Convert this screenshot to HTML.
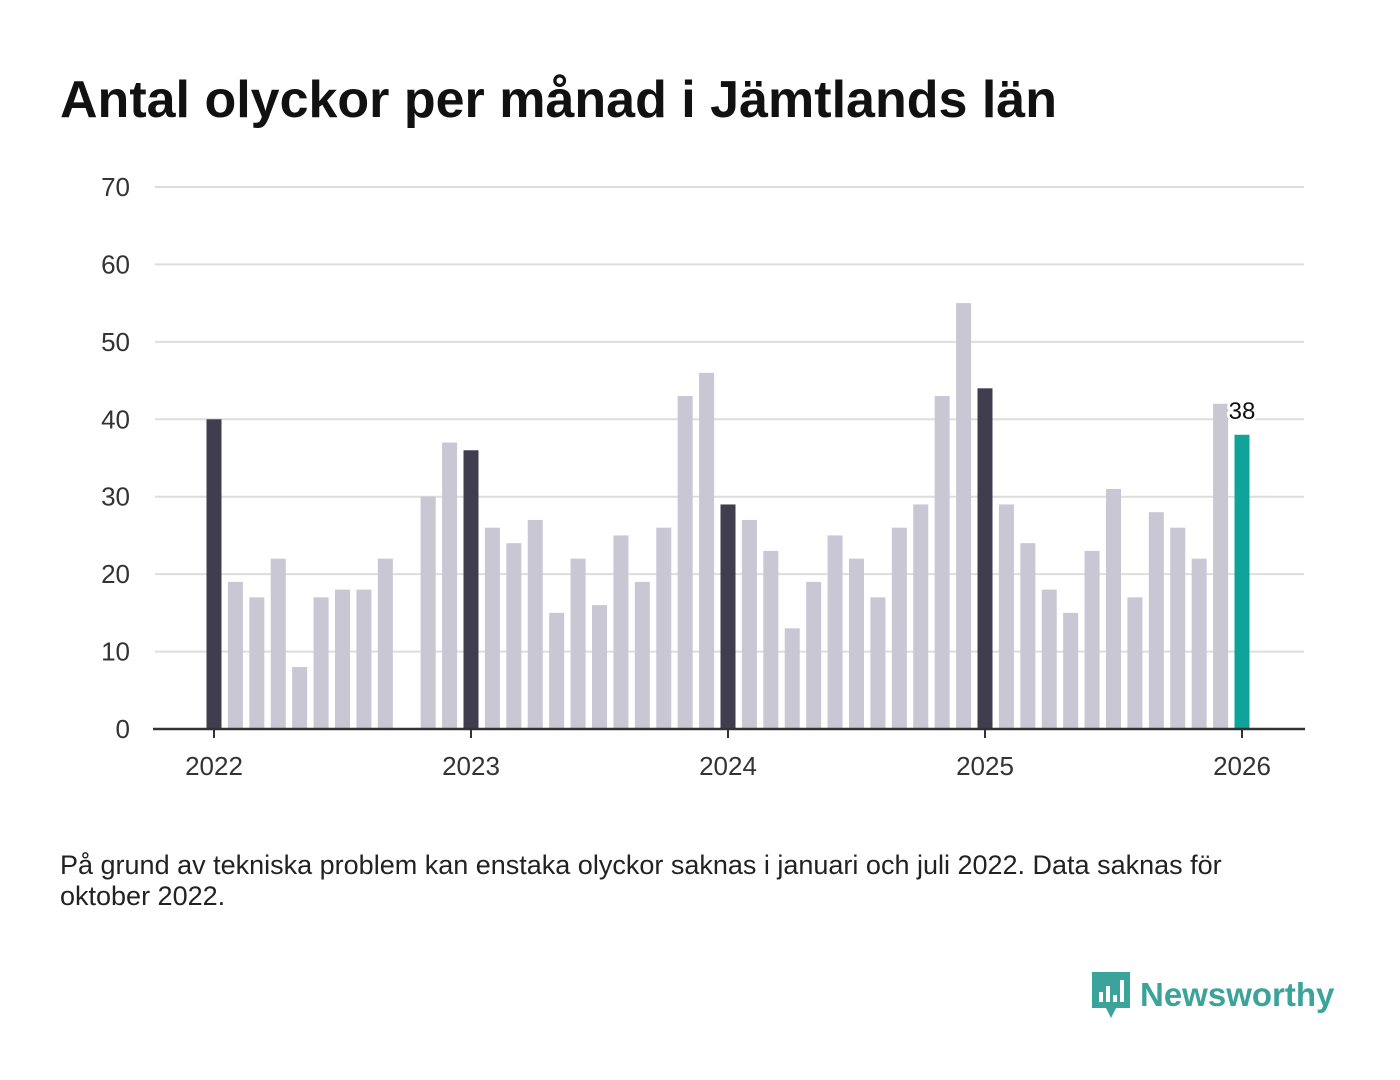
<!DOCTYPE html>
<html><head><meta charset="utf-8">
<style>
body{margin:0;background:#fff;width:1400px;height:1080px;overflow:hidden;font-family:"Liberation Sans","DejaVu Sans",sans-serif;}
#title{position:absolute;left:60px;top:70px;font-size:52px;font-weight:bold;color:#111;margin:0;}
#note{position:absolute;left:60px;top:850px;width:1300px;font-size:27px;line-height:31px;color:#222;}
#logo{position:absolute;left:1090px;top:970px;display:flex;align-items:center;}
#logo span{font-size:33px;font-weight:bold;color:#3aa39a;margin-left:8px;}
</style></head><body>
<h1 id="title">Antal olyckor per månad i Jämtlands län</h1>
<svg id="chart" width="1400" height="1080" style="position:absolute;left:0;top:0"></svg>
<div id="note">På grund av tekniska problem kan enstaka olyckor saknas i januari och juli 2022. Data saknas för<br>oktober 2022.</div>
<div id="logo">
<svg width="42" height="50" viewBox="0 0 42 50"><path d="M2 2h38v36H26l-5 10-5-10H2z" fill="#3aa39a"/><rect x="9" y="22" width="4" height="10" fill="#fff"/><rect x="16" y="16" width="4" height="16" fill="#fff"/><rect x="23" y="25" width="4" height="7" fill="#fff"/><rect x="30" y="10" width="4" height="22" fill="#fff"/></svg>
<span>Newsworthy</span></div>
<script>
const values=[40,19,17,22,8,17,18,18,22,null,30,37,
36,26,24,27,15,22,16,25,19,26,43,46,
29,27,23,13,19,25,22,17,26,29,43,55,
44,29,24,18,15,23,31,17,28,26,22,42,
38];
const yTicks=[0,10,20,30,40,50,60,70];
const xYears=[2022,2023,2024,2025,2026];
const ns="http://www.w3.org/2000/svg";
const svg=document.getElementById('chart');
const x0=214,monthW=257/12,y0=729,yScale=(729-187)/70;
const xs=i=>x0+i*monthW, ys=v=>y0-v*yScale;
function mk(t,a){const e=document.createElementNS(ns,t);for(const k in a)e.setAttribute(k,a[k]);svg.appendChild(e);return e;}
yTicks.forEach(t=>{
 const g=mk('line',{x1:155,x2:1304,y1:ys(t),y2:ys(t),stroke:'#ddd','stroke-width':2});
 
 
 const l=mk('text',{x:130,y:ys(t)+9,'text-anchor':'end','font-size':26,fill:'#333'});
 l.textContent=t;
 
 
});
values.forEach((v,i)=>{
 if(v==null)return;
 const last=i===values.length-1;
 const col=last?'#0fa39a':(i%12===0?'#3f3d4e':'#c8c7d3');
 const r=mk('rect',{x:xs(i)-7.5,y:ys(v),width:15,height:v*yScale,fill:col});
 
 
 if(last){const t=mk('text',{x:xs(i),y:ys(v)-16,'text-anchor':'middle','font-size':24,fill:'#111',stroke:'#fff','stroke-width':5,'paint-order':'stroke'});
 t.textContent=v;
 
 }
});
const ax=mk('line',{x1:153,x2:1305,y1:y0,y2:y0,stroke:'#333','stroke-width':2.5});


xYears.forEach((yr,k)=>{
 const x=xs(k*12);
 const tk=mk('line',{x1:x,x2:x,y1:y0,y2:y0+9,stroke:'#333','stroke-width':2});
 
 
 const t=mk('text',{x:x,y:y0+46,'text-anchor':'middle','font-size':26,fill:'#333'});
 t.textContent=yr;
 
 
});
</script>
</body></html>
